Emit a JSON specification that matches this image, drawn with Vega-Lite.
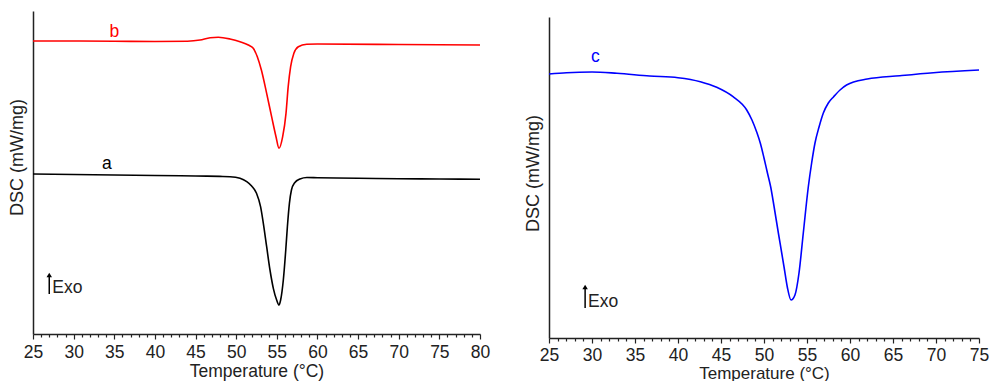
{
  "$schema": "https://vega.github.io/schema/vega-lite/v6.json",
  "padding": {"left": 8, "top": 11, "right": 2, "bottom": 0},
  "config": {
    "view": {"stroke": null},
    "font": "Liberation Sans",
    "axis": {"grid": false, "domainColor": "#222222", "domainWidth": 1.5, "tickColor": "#222222", "tickWidth": 1.2, "labelColor": "#222222", "titleColor": "#222222", "labelFontSize": 17.5, "titleFontSize": 17.5, "titleFontWeight": "normal", "labelFont": "Liberation Sans", "titleFont": "Liberation Sans"}
  },
  "datasets": {
    "ab": [
      {"t": 25, "dsc": 160, "sample": "a"}, {"t": 30, "dsc": 159.5, "sample": "a"}, {"t": 35, "dsc": 159, "sample": "a"}, {"t": 40, "dsc": 158.5, "sample": "a"}, {"t": 45, "dsc": 158, "sample": "a"}, {"t": 48, "dsc": 157.6, "sample": "a"}, {"t": 49.24, "dsc": 157.3, "sample": "a"}, {"t": 50.47, "dsc": 155.7, "sample": "a"}, {"t": 51.3, "dsc": 152.3, "sample": "a"}, {"t": 51.9, "dsc": 148, "sample": "a"}, {"t": 52.5, "dsc": 140.7, "sample": "a"}, {"t": 53.0, "dsc": 127.3, "sample": "a"}, {"t": 53.34, "dsc": 110.7, "sample": "a"}, {"t": 53.75, "dsc": 87.3, "sample": "a"}, {"t": 54.16, "dsc": 64, "sample": "a"}, {"t": 54.57, "dsc": 45.7, "sample": "a"}, {"t": 54.98, "dsc": 34, "sample": "a"}, {"t": 55.27, "dsc": 29, "sample": "a"}, {"t": 55.47, "dsc": 34, "sample": "a"}, {"t": 55.8, "dsc": 54, "sample": "a"}, {"t": 56.1, "dsc": 84, "sample": "a"}, {"t": 56.3, "dsc": 107.3, "sample": "a"}, {"t": 56.55, "dsc": 130.7, "sample": "a"}, {"t": 56.8, "dsc": 144, "sample": "a"}, {"t": 57.2, "dsc": 151.3, "sample": "a"}, {"t": 57.85, "dsc": 155, "sample": "a"}, {"t": 58.7, "dsc": 156.5, "sample": "a"}, {"t": 60, "dsc": 156.3, "sample": "a"}, {"t": 65, "dsc": 155.8, "sample": "a"}, {"t": 70, "dsc": 155.3, "sample": "a"}, {"t": 75, "dsc": 155, "sample": "a"}, {"t": 80, "dsc": 154.7, "sample": "a"},
      {"t": 25, "dsc": 293, "sample": "b"}, {"t": 30, "dsc": 293, "sample": "b"}, {"t": 35, "dsc": 292.7, "sample": "b"}, {"t": 40, "dsc": 292.5, "sample": "b"}, {"t": 44, "dsc": 292.8, "sample": "b"}, {"t": 45.55, "dsc": 294, "sample": "b"}, {"t": 46.8, "dsc": 296.3, "sample": "b"}, {"t": 47.8, "dsc": 296.7, "sample": "b"}, {"t": 49.24, "dsc": 295, "sample": "b"}, {"t": 50.47, "dsc": 292.3, "sample": "b"}, {"t": 51.5, "dsc": 289, "sample": "b"}, {"t": 52.1, "dsc": 285.7, "sample": "b"}, {"t": 52.6, "dsc": 277.3, "sample": "b"}, {"t": 53.1, "dsc": 264, "sample": "b"}, {"t": 53.75, "dsc": 240.7, "sample": "b"}, {"t": 54.36, "dsc": 217.3, "sample": "b"}, {"t": 54.9, "dsc": 197.3, "sample": "b"}, {"t": 55.27, "dsc": 185.7, "sample": "b"}, {"t": 55.72, "dsc": 197.3, "sample": "b"}, {"t": 56.13, "dsc": 220.7, "sample": "b"}, {"t": 56.4, "dsc": 247.3, "sample": "b"}, {"t": 56.7, "dsc": 267.3, "sample": "b"}, {"t": 57.1, "dsc": 280.7, "sample": "b"}, {"t": 57.65, "dsc": 287.3, "sample": "b"}, {"t": 58.68, "dsc": 289.7, "sample": "b"}, {"t": 60, "dsc": 290, "sample": "b"}, {"t": 70, "dsc": 289.5, "sample": "b"}, {"t": 80, "dsc": 289, "sample": "b"}
    ],
    "abLabels": [
      {"t": 34.1, "dsc": 170, "sample": "a"},
      {"t": 35.0, "dsc": 302, "sample": "b"}
    ],
    "leftArrow": [{"t": 27.0, "dsc": 40, "dsc2": 58}],
    "leftHead": [{"t": 27.0, "dsc": 59}],
    "leftExo": [{"t": 27.0, "dsc": 46, "label": "Exo"}],
    "c": [
      {"t": 25, "dsc": 264, "sample": "c"}, {"t": 27.05, "dsc": 265.3, "sample": "c"}, {"t": 30, "dsc": 266, "sample": "c"}, {"t": 32.9, "dsc": 264.7, "sample": "c"}, {"t": 36.7, "dsc": 262, "sample": "c"}, {"t": 40, "dsc": 260.3, "sample": "c"}, {"t": 42.6, "dsc": 256.3, "sample": "c"}, {"t": 44.5, "dsc": 250.7, "sample": "c"}, {"t": 46.4, "dsc": 241.3, "sample": "c"}, {"t": 47.99, "dsc": 228, "sample": "c"}, {"t": 48.6, "dsc": 218, "sample": "c"}, {"t": 49.15, "dsc": 206, "sample": "c"}, {"t": 49.6, "dsc": 194, "sample": "c"}, {"t": 50.0, "dsc": 180, "sample": "c"}, {"t": 50.4, "dsc": 165, "sample": "c"}, {"t": 50.78, "dsc": 151, "sample": "c"}, {"t": 51.16, "dsc": 132, "sample": "c"}, {"t": 51.67, "dsc": 105, "sample": "c"}, {"t": 52.06, "dsc": 85, "sample": "c"}, {"t": 52.33, "dsc": 71, "sample": "c"}, {"t": 52.71, "dsc": 51, "sample": "c"}, {"t": 53.14, "dsc": 38, "sample": "c"}, {"t": 53.6, "dsc": 43, "sample": "c"}, {"t": 54.07, "dsc": 65, "sample": "c"}, {"t": 54.57, "dsc": 105, "sample": "c"}, {"t": 55.15, "dsc": 151, "sample": "c"}, {"t": 55.54, "dsc": 175, "sample": "c"}, {"t": 55.93, "dsc": 195, "sample": "c"}, {"t": 56.4, "dsc": 211, "sample": "c"}, {"t": 56.9, "dsc": 225, "sample": "c"}, {"t": 57.48, "dsc": 235, "sample": "c"}, {"t": 58.1, "dsc": 241.3, "sample": "c"}, {"t": 58.84, "dsc": 248, "sample": "c"}, {"t": 59.6, "dsc": 253, "sample": "c"}, {"t": 62.0, "dsc": 259, "sample": "c"}, {"t": 65.8, "dsc": 262.3, "sample": "c"}, {"t": 69.7, "dsc": 265.3, "sample": "c"}, {"t": 75, "dsc": 268, "sample": "c"}
    ],
    "cLabels": [{"t": 30.4, "dsc": 281.3, "sample": "c"}],
    "rightArrow": [{"t": 29.2, "dsc": 30, "dsc2": 50}],
    "rightHead": [{"t": 29.2, "dsc": 51}],
    "rightExo": [{"t": 29.2, "dsc": 36, "label": "Exo"}],
    "spacer": []
  },
  "hconcat": [
    {
      "width": 447,
      "height": 323,
      "encoding": {
        "x": {"field": "t", "type": "quantitative", "title": "Temperature (°C)",
          "scale": {"domain": [25, 80], "nice": false, "zero": false},
          "axis": {"values": [25,26,27,28,29,30,31,32,33,34,35,36,37,38,39,40,41,42,43,44,45,46,47,48,49,50,51,52,53,54,55,56,57,58,59,60,61,62,63,64,65,66,67,68,69,70,71,72,73,74,75,76,77,78,79,80],
            "labelExpr": "datum.value % 5 == 0 ? datum.label : ''",
            "tickSize": {"condition": {"test": "datum.value % 5 == 0", "value": 5}, "value": 3},
            "labelPadding": 4, "labelOverlap": false, "labelFlush": false, "titlePadding": 2}},
        "y": {"field": "dsc", "type": "quantitative", "title": "DSC (mW/mg)",
          "scale": {"domain": [0, 323], "nice": false},
          "axis": {"ticks": false, "labels": false, "titlePadding": 7, "titleFontSize": 18, "titleY": 146}}
      },
      "layer": [
        {"data": {"name": "ab"}, "mark": {"type": "line", "strokeWidth": 1.6, "interpolate": "monotone"},
          "encoding": {"color": {"field": "sample", "type": "nominal", "scale": {"domain": ["a", "b"], "range": ["#000000", "#ff0000"]}, "legend": null}}},
        {"data": {"name": "abLabels"}, "mark": {"type": "text", "fontSize": 17.5, "baseline": "middle"},
          "encoding": {"text": {"field": "sample"}, "color": {"field": "sample", "type": "nominal", "legend": null}}},
        {"data": {"name": "leftArrow"}, "mark": {"type": "rule", "strokeWidth": 1.5, "color": "#000000"},
          "encoding": {"y2": {"field": "dsc2"}}},
        {"data": {"name": "leftHead"}, "mark": {"type": "point", "shape": "triangle-up", "filled": true, "size": 30, "color": "#000000", "opacity": 1},
          "encoding": {}},
        {"data": {"name": "leftExo"}, "mark": {"type": "text", "fontSize": 17.5, "align": "left", "baseline": "middle", "dx": 3, "color": "#222222"},
          "encoding": {"text": {"field": "label"}}}
      ]
    },
    {
      "spacing": 0,
      "vconcat": [
        {"data": {"name": "spacer"}, "width": 430, "height": 6, "mark": "rule", "encoding": {}},
        {
          "width": 430,
          "height": 321,
          "encoding": {
            "x": {"field": "t", "type": "quantitative", "title": "Temperature (°C)",
              "scale": {"domain": [25, 75], "nice": false, "zero": false},
              "axis": {"values": [25,26,27,28,29,30,31,32,33,34,35,36,37,38,39,40,41,42,43,44,45,46,47,48,49,50,51,52,53,54,55,56,57,58,59,60,61,62,63,64,65,66,67,68,69,70,71,72,73,74,75],
                "labelExpr": "datum.value % 5 == 0 ? datum.label : ''",
                "tickSize": {"condition": {"test": "datum.value % 5 == 0", "value": 5}, "value": 3},
                "labelPadding": 3, "labelOverlap": false, "labelFlush": false, "titlePadding": 1.5, "titleFontSize": 17}},
            "y": {"field": "dsc", "type": "quantitative", "title": "DSC (mW/mg)",
              "scale": {"domain": [0, 321], "nice": false},
              "axis": {"ticks": false, "labels": false, "titlePadding": 7, "titleFontSize": 18, "titleY": 156}}
          },
          "layer": [
            {"data": {"name": "c"}, "mark": {"type": "line", "strokeWidth": 1.6, "interpolate": "monotone", "color": "#0000ff"}},
            {"data": {"name": "cLabels"}, "mark": {"type": "text", "fontSize": 17.5, "baseline": "middle", "color": "#0000ff"},
              "encoding": {"text": {"field": "sample"}}},
            {"data": {"name": "rightArrow"}, "mark": {"type": "rule", "strokeWidth": 1.5, "color": "#000000"},
              "encoding": {"y2": {"field": "dsc2"}}},
            {"data": {"name": "rightHead"}, "mark": {"type": "point", "shape": "triangle-up", "filled": true, "size": 30, "color": "#000000", "opacity": 1},
              "encoding": {}},
            {"data": {"name": "rightExo"}, "mark": {"type": "text", "fontSize": 17.5, "align": "left", "baseline": "middle", "dx": 3, "color": "#222222"},
              "encoding": {"text": {"field": "label"}}}
          ]
        }
      ]
    }
  ],
  "spacing": 34
}
